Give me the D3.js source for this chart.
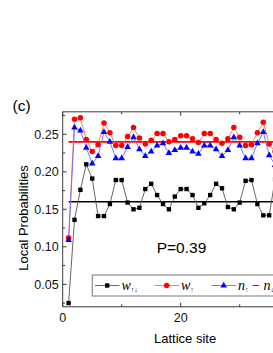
<!DOCTYPE html>
<html>
<head>
<meta charset="utf-8">
<script src="https://cdn.jsdelivr.net/npm/d3@7"></script>
<style>
  html, body { margin: 0; padding: 0; background: #fff; overflow: hidden; }
</style>
</head>
<body>
<div id="chart"></div>
<script>
// Номера узлов решётки
const sites = d3.range(1, 37);

// w_{↑↓} - чёрные квадраты
const wUpDown = [
  0.025, 0.136, 0.176, 0.210, 0.191, 0.141, 0.141, 0.157, 0.189, 0.189,
  0.159, 0.150, 0.152, 0.177, 0.184, 0.169, 0.157, 0.150, 0.167, 0.177,
  0.177, 0.169, 0.152, 0.158, 0.169, 0.184, 0.178, 0.153, 0.150, 0.159,
  0.188, 0.189, 0.157, 0.142, 0.142, 0.190,
];

// w_{↑} - красные круги
const wUp = [
  0.112, 0.270, 0.272, 0.243, 0.227, 0.236, 0.265, 0.252, 0.235, 0.235,
  0.247, 0.259, 0.245, 0.237, 0.242, 0.251, 0.251, 0.240, 0.243, 0.248,
  0.248, 0.244, 0.239, 0.251, 0.251, 0.243, 0.238, 0.244, 0.259, 0.246,
  0.235, 0.236, 0.252, 0.266, 0.237, 0.227,
];

// n↑ - n↓ - синие треугольники
const nDiff = [
  0.109, 0.259, 0.255, 0.232, 0.211, 0.221, 0.253, 0.240, 0.218, 0.218,
  0.233, 0.246, 0.230, 0.221, 0.227, 0.235, 0.238, 0.225, 0.229, 0.232,
  0.232, 0.227, 0.224, 0.235, 0.235, 0.230, 0.221, 0.229, 0.246, 0.235,
  0.218, 0.218, 0.238, 0.253, 0.222, 0.209,
];

// Средние уровни (горизонтальные линии)
const meanLevels = [0.24, 0.16];

const xTicksMajor = [0, 20, 40];
const xTicksMinor = [10, 30];
const xTickLabels = [0, 20]; // 40 уходит за край окна
const yTicksMajor = [0.05, 0.10, 0.15, 0.20, 0.25];
const yTicksMinor = [0.025, 0.075, 0.125, 0.175, 0.225, 0.275];

const panelLabel = "(c)";
const paramLabel = "P=0.39";
const xTitle = "Lattice site";
const yTitle = "Local Probabilities";

function drawAxes(svg, xScale, yScale, opts) {
  const { left, right, top, bottom } = opts;
  const axisColor = "#3a3a3a";

  const frame = svg.append("g").attr("class", "frame");

  // Рамка: левая, нижняя, верхняя и правая стороны
  frame.append("line")
    .attr("x1", left).attr("y1", top).attr("x2", left).attr("y2", bottom)
    .attr("stroke", axisColor).attr("stroke-width", 1);
  frame.append("line")
    .attr("x1", left).attr("y1", bottom).attr("x2", right).attr("y2", bottom)
    .attr("stroke", axisColor).attr("stroke-width", 1);
  frame.append("line")
    .attr("x1", left).attr("y1", top).attr("x2", right).attr("y2", top)
    .attr("stroke", axisColor).attr("stroke-width", 1);
  frame.append("line")
    .attr("x1", right).attr("y1", top).attr("x2", right).attr("y2", bottom)
    .attr("stroke", axisColor).attr("stroke-width", 1);

  // Засечки внутрь графика
  const ticks = svg.append("g").attr("class", "ticks");

  const yTickData = yTicksMajor.map((v) => ({ v, len: 4 }))
    .concat(yTicksMinor.map((v) => ({ v, len: 2.5 })));
  ticks.selectAll(".ytick")
    .data(yTickData)
    .join("line")
    .attr("class", "ytick")
    .attr("x1", left)
    .attr("x2", (d) => left + d.len)
    .attr("y1", (d) => yScale(d.v))
    .attr("y2", (d) => yScale(d.v))
    .attr("stroke", axisColor)
    .attr("stroke-width", 1);

  const xTickData = xTicksMajor.map((v) => ({ v, len: 4 }))
    .concat(xTicksMinor.map((v) => ({ v, len: 2.5 })));
  ticks.selectAll(".xtick")
    .data(xTickData)
    .join("line")
    .attr("class", "xtick")
    .attr("x1", (d) => xScale(d.v))
    .attr("x2", (d) => xScale(d.v))
    .attr("y1", bottom)
    .attr("y2", (d) => bottom - d.len)
    .attr("stroke", axisColor)
    .attr("stroke-width", 1);
  ticks.selectAll(".xtick-top")
    .data(xTickData)
    .join("line")
    .attr("class", "xtick-top")
    .attr("x1", (d) => xScale(d.v))
    .attr("x2", (d) => xScale(d.v))
    .attr("y1", top)
    .attr("y2", (d) => top + d.len)
    .attr("stroke", axisColor)
    .attr("stroke-width", 1);

  // Подписи делений
  svg.append("g")
    .selectAll("text")
    .data(yTicksMajor)
    .join("text")
    .attr("x", left - 4)
    .attr("y", (d) => yScale(d) + 4.5)
    .attr("text-anchor", "end")
    .attr("font-family", "Liberation Sans, Arial, sans-serif")
    .attr("font-size", "12.5px")
    .attr("fill", "#111")
    .text((d) => d3.format(".2f")(d));

  svg.append("g")
    .selectAll("text")
    .data(xTickLabels)
    .join("text")
    .attr("x", (d) => xScale(d))
    .attr("y", bottom + 15.5)
    .attr("text-anchor", "middle")
    .attr("font-family", "Liberation Sans, Arial, sans-serif")
    .attr("font-size", "12.5px")
    .attr("fill", "#111")
    .text((d) => d);
}

function drawSeries(group, xScale, yScale, values, style) {
  const line = d3.line()
    .x((d, i) => xScale(sites[i]))
    .y((d) => yScale(d));

  group.append("path")
    .datum(values)
    .attr("fill", "none")
    .attr("stroke", style.lineColor)
    .attr("stroke-width", 0.9)
    .attr("d", line);

  group.selectAll(null)
    .data(values)
    .join("path")
    .attr("transform", (d, i) => `translate(${xScale(sites[i])},${yScale(d)})`)
    .attr("d", d3.symbol().type(style.symbol).size(style.size))
    .attr("fill", style.fill);
}

function createChart(containerId) {
  const width = 273;
  const height = 353;

  const left = 62.7;
  const top = 111.8;
  const bottom = 306.8;
  const xMax = 41.5;
  const right = left + 5.9 * xMax;

  const svg = d3.select(`#${containerId}`)
    .append("svg")
    .attr("width", width)
    .attr("height", height)
    .attr("viewBox", `0 0 ${width} ${height}`);

  const xScale = d3.scaleLinear().domain([0, xMax]).range([left, right]);
  const yScale = d3.scaleLinear().domain([0.02, 0.28]).range([bottom, top]);

  drawAxes(svg, xScale, yScale, { left, right, top, bottom });

  const plot = svg.append("g").attr("class", "plot");

  // Средние значения: красная (w↑) и чёрная (w↑↓)
  plot.append("line")
    .attr("x1", xScale(1)).attr("x2", right)
    .attr("y1", yScale(meanLevels[0])).attr("y2", yScale(meanLevels[0]))
    .attr("stroke", "#ff0000").attr("stroke-width", 1.8);
  plot.append("line")
    .attr("x1", xScale(1)).attr("x2", right)
    .attr("y1", yScale(meanLevels[1])).attr("y2", yScale(meanLevels[1]))
    .attr("stroke", "#000").attr("stroke-width", 1.5);

  drawSeries(plot.append("g"), xScale, yScale, wUpDown, {
    lineColor: "#555", symbol: d3.symbolSquare, size: 19, fill: "#000",
  });
  drawSeries(plot.append("g"), xScale, yScale, wUp, {
    lineColor: "#ff6a6a", symbol: d3.symbolCircle, size: 24, fill: "#ff0000",
  });
  drawSeries(plot.append("g"), xScale, yScale, nDiff, {
    lineColor: "#6a6aff", symbol: d3.symbolTriangle, size: 19, fill: "#0000ff",
  });

  // Текст
  svg.append("text")
    .attr("x", 12.5).attr("y", 110.5)
    .attr("font-family", "Liberation Sans, Arial, sans-serif")
    .attr("font-size", "15.5px").attr("fill", "#000")
    .text(panelLabel);

  svg.append("text")
    .attr("x", 181.5).attr("y", 253.3)
    .attr("text-anchor", "middle")
    .attr("font-family", "Liberation Sans, Arial, sans-serif")
    .attr("font-size", "15.5px").attr("fill", "#000")
    .text(paramLabel);

  svg.append("text")
    .attr("x", (left + right) / 2).attr("y", 342.8)
    .attr("text-anchor", "middle")
    .attr("font-family", "Liberation Sans, Arial, sans-serif")
    .attr("font-size", "13px").attr("fill", "#000")
    .text(xTitle);

  svg.append("text")
    .attr("transform", `translate(28.4, 218) rotate(-90)`)
    .attr("text-anchor", "middle")
    .attr("font-family", "Liberation Sans, Arial, sans-serif")
    .attr("font-size", "13px").attr("fill", "#000")
    .text(yTitle);

  drawLegend(svg, right);
}

function drawLegend(svg, right) {
  const boxTop = 275;
  const boxBottom = 296;
  const boxLeft = 92.3;
  const cy = 285.5;

  svg.append("rect")
    .attr("x", boxLeft).attr("y", boxTop)
    .attr("width", right - 8 - boxLeft).attr("height", boxBottom - boxTop)
    .attr("fill", "#fff")
    .attr("stroke", "#8c8c8c")
    .attr("stroke-width", 1.2);

  const items = [
    { x0: 95, color: "#555", symbol: d3.symbolSquare, size: 19, fill: "#000", sym: "w", sub: "↑↓" },
    { x0: 154.5, color: "#ff6a6a", symbol: d3.symbolCircle, size: 24, fill: "#ff0000", sym: "w", sub: "↑" },
    { x0: 211.5, color: "#6a6aff", symbol: d3.symbolTriangle, size: 19, fill: "#0000ff", sym: "n", sub: "↑" },
  ];

  const g = svg.append("g").attr("class", "legend");
  items.forEach((it, k) => {
    g.append("line")
      .attr("x1", it.x0).attr("x2", it.x0 + 24.5)
      .attr("y1", cy).attr("y2", cy)
      .attr("stroke", it.color).attr("stroke-width", 0.9);
    g.append("path")
      .attr("transform", `translate(${it.x0 + 12.2},${cy})`)
      .attr("d", d3.symbol().type(it.symbol).size(it.size))
      .attr("fill", it.fill);

    const t = g.append("text")
      .attr("x", it.x0 + 26.5).attr("y", 289.5)
      .attr("font-family", "Liberation Serif, Times New Roman, serif")
      .attr("font-size", "14px").attr("fill", "#000");
    t.append("tspan").attr("font-style", "italic").text(it.sym);
    t.append("tspan").attr("font-size", "7px").attr("dy", 2.5).text(it.sub);
    if (k === 2) {
      t.append("tspan").attr("dy", -2.5).text(" − ");
      t.append("tspan").attr("font-style", "italic").text("n");
      t.append("tspan").attr("font-size", "7px").attr("dy", 2.5).text("↓");
    }
  });
}

document.addEventListener("DOMContentLoaded", () => {
  createChart("chart");
});
</script>
</body>
</html>
